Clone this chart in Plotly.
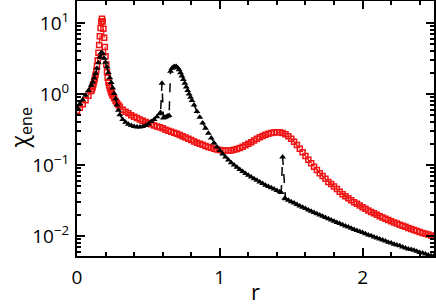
import plotly.graph_objects as go

# ---- data ----
r_red = [0.00, 0.02, 0.04, 0.06, 0.08, 0.10, 0.105, 0.11, 0.115, 0.12, 0.125, 0.13, 0.135, 0.14,
         0.145, 0.15, 0.155, 0.16, 0.165, 0.17, 0.175, 0.18, 0.185, 0.19, 0.195, 0.20, 0.205,
         0.21, 0.215, 0.22, 0.225, 0.23, 0.235, 0.24, 0.245, 0.25, 0.26, 0.27, 0.28, 0.29, 0.30,
         0.32, 0.34, 0.36, 0.38, 0.40, 0.42, 0.44, 0.46, 0.48, 0.50, 0.52, 0.54, 0.56, 0.58,
         0.60, 0.62, 0.64, 0.66, 0.68, 0.70, 0.72, 0.74, 0.76, 0.78, 0.80, 0.82, 0.84, 0.86,
         0.88, 0.90, 0.92, 0.94, 0.96, 0.98, 1.00, 1.02, 1.04, 1.06, 1.08, 1.10, 1.12, 1.14,
         1.16, 1.18, 1.20, 1.22, 1.24, 1.26, 1.28, 1.30, 1.32, 1.34, 1.36, 1.38, 1.40, 1.42,
         1.44, 1.46, 1.48, 1.50, 1.52, 1.54, 1.56, 1.58, 1.60, 1.62, 1.64, 1.66, 1.68, 1.70,
         1.72, 1.74, 1.76, 1.78, 1.80, 1.82, 1.84, 1.86, 1.88, 1.90, 1.92, 1.94, 1.96, 1.98,
         2.00, 2.02, 2.04, 2.06, 2.08, 2.10, 2.12, 2.14, 2.16, 2.18, 2.20, 2.22, 2.24, 2.26,
         2.28, 2.30, 2.32, 2.34, 2.36, 2.38, 2.40, 2.42, 2.44, 2.46, 2.48, 2.50]
chi_red = [0.58, 0.64, 0.72, 0.82, 0.95, 1.1, 1.17, 1.26, 1.37, 1.5, 1.66, 1.87, 2.15, 2.5,
           3.0, 3.8, 4.9, 6.5, 8.5, 10.5, 11.5, 10.5, 8.3, 6.2, 4.6, 3.4, 2.6,
           2.05, 1.7, 1.48, 1.33, 1.22, 1.13, 1.06, 1.0, 0.95, 0.87, 0.8, 0.75, 0.7, 0.66,
           0.6, 0.565, 0.535, 0.505, 0.48, 0.46, 0.44, 0.42, 0.405, 0.39, 0.375, 0.36, 0.35, 0.34,
           0.33, 0.315, 0.305, 0.295, 0.285, 0.275, 0.265, 0.255, 0.245, 0.235, 0.225, 0.215, 0.207, 0.2,
           0.193, 0.186, 0.18, 0.175, 0.17, 0.166, 0.163, 0.161, 0.16, 0.16, 0.161, 0.164, 0.168, 0.174,
           0.181, 0.19, 0.2, 0.21, 0.222, 0.234, 0.246, 0.257, 0.267, 0.276, 0.283, 0.288, 0.29, 0.289,
           0.283, 0.272, 0.255, 0.235, 0.213, 0.191, 0.17, 0.151, 0.134, 0.119, 0.106, 0.095, 0.085, 0.077,
           0.07, 0.064, 0.058, 0.054, 0.05, 0.046, 0.042, 0.039, 0.0365, 0.034, 0.032, 0.030, 0.0285, 0.027,
           0.0255, 0.0242, 0.023, 0.0219, 0.0209, 0.02, 0.0191, 0.0183, 0.0176, 0.0169, 0.0162, 0.0156, 0.015, 0.0145,
           0.014, 0.0135, 0.013, 0.0126, 0.0122, 0.0118, 0.0114, 0.0111, 0.0108, 0.0105, 0.0102, 0.0099]

r_black = [0.00, 0.02, 0.04, 0.06, 0.08, 0.10, 0.11, 0.12, 0.13, 0.14, 0.15, 0.16, 0.17, 0.175,
           0.18, 0.19, 0.20, 0.21, 0.22, 0.23, 0.24, 0.25, 0.26, 0.27, 0.28, 0.29, 0.30,
           0.32, 0.34, 0.36, 0.38, 0.40, 0.42, 0.44, 0.46, 0.48, 0.50, 0.52, 0.54, 0.56, 0.58,
           0.585, 0.595, 0.605, 0.615, 0.625, 0.635, 0.645, 0.655, 0.665, 0.675, 0.685, 0.695,
           0.705, 0.715, 0.725, 0.735, 0.745, 0.755, 0.765, 0.775, 0.785, 0.795, 0.805,
           0.82, 0.84, 0.86, 0.88, 0.90, 0.92, 0.94, 0.96, 0.98, 1.00, 1.02, 1.04, 1.06, 1.08,
           1.10, 1.12, 1.14, 1.16, 1.18, 1.20, 1.22, 1.24, 1.26, 1.28, 1.30, 1.32, 1.34, 1.36,
           1.38, 1.40, 1.42, 1.43, 1.44, 1.455, 1.46, 1.48, 1.50, 1.52, 1.54, 1.56, 1.58, 1.60,
           1.62, 1.64, 1.66, 1.68, 1.70, 1.72, 1.74, 1.76, 1.78, 1.80, 1.82, 1.84, 1.86, 1.88,
           1.90, 1.92, 1.94, 1.96, 1.98, 2.00, 2.02, 2.04, 2.06, 2.08, 2.10, 2.12, 2.14, 2.16,
           2.18, 2.20, 2.22, 2.24, 2.26, 2.28, 2.30, 2.32, 2.34, 2.36, 2.38, 2.40, 2.42, 2.44,
           2.46, 2.48, 2.50]
chi_black = [0.65, 0.73, 0.83, 0.96, 1.12, 1.33, 1.48, 1.68, 1.95, 2.3, 2.75, 3.3, 3.8, 3.85,
             3.7, 3.2, 2.8, 2.4, 2.0, 1.7, 1.45, 1.22, 1.02, 0.86, 0.7, 0.59, 0.51,
             0.44, 0.4, 0.375, 0.36, 0.35, 0.345, 0.345, 0.35, 0.36, 0.38, 0.41, 0.44, 0.48, 0.53,
             0.55, 1.42, 0.46, 0.47, 0.48, 0.49, 0.5, 2.1, 2.3, 2.4, 2.45, 2.45,
             2.35, 2.2, 2.0, 1.8, 1.6, 1.42, 1.26, 1.12, 1.0, 0.9, 0.81,
             0.7, 0.57, 0.47, 0.39, 0.33, 0.28, 0.24, 0.205, 0.18, 0.16, 0.143, 0.13, 0.118, 0.108,
             0.1, 0.093, 0.087, 0.081, 0.076, 0.072, 0.068, 0.064, 0.061, 0.058, 0.055, 0.052, 0.05, 0.048,
             0.046, 0.044, 0.042, 0.041, 0.13, 0.034, 0.0335, 0.032, 0.0305, 0.0292, 0.0279, 0.0266, 0.0255, 0.0244,
             0.0234, 0.0224, 0.0215, 0.0207, 0.0198, 0.0191, 0.0183, 0.0176, 0.0169, 0.0162, 0.0156, 0.015, 0.0145, 0.0139,
             0.0134, 0.0129, 0.0124, 0.012, 0.0116, 0.0112, 0.0108, 0.0104, 0.0101, 0.0097, 0.0094, 0.0091, 0.0088, 0.0085,
             0.0082, 0.008, 0.0077, 0.0075, 0.0073, 0.007, 0.0068, 0.0066, 0.0065, 0.0063, 0.0061, 0.0059, 0.0058, 0.0056,
             0.0054, 0.0053, 0.0053]

x_ticks = [0, 1, 2]
x_ticklabels = ["0", "1", "2"]
x_minor = [0.2, 0.4, 0.6, 0.8, 1.2, 1.4, 1.6, 1.8, 2.2, 2.4]
y_ticks = [0.01, 0.1, 1, 10]
y_ticklabels = ["10<sup>−2</sup>", "10<sup>−1</sup>", "10<sup>0</sup>", "10<sup>1</sup>"]
y_minor = [m * d for d in [0.001, 0.01, 0.1, 1, 10] for m in range(2, 10)]
x_title = "r"
y_title = "χ<sub>ene</sub>"

FONT = "Open Sans"
RED = "#f01414"

fig = go.Figure()
fig.add_trace(go.Scatter(
    x=r_red, y=chi_red, mode="lines+markers",
    line=dict(color=RED, width=1.2, dash="dash"),
    marker=dict(symbol="square-open", size=5, color=RED, line=dict(width=1.5, color=RED)),
    showlegend=False, cliponaxis=True))
fig.add_trace(go.Scatter(
    x=r_black, y=chi_black, mode="lines+markers",
    line=dict(color="black", width=1.5, dash="dash"),
    marker=dict(symbol="triangle-up", size=6, color="black"),
    showlegend=False, cliponaxis=True))

axis_common = dict(showline=True, linecolor="black", linewidth=2, mirror="ticks",
                   ticks="inside", tickcolor="black", tickwidth=1.5, ticklen=8,
                   showgrid=False, zeroline=False, automargin=False,
                   tickfont=dict(family=FONT, size=19, color="black"))

fig.update_xaxes(range=[0, 2.5], tickmode="array", tickvals=x_ticks, ticktext=x_ticklabels,
                 minor=dict(tickmode="array", tickvals=x_minor, ticks="inside", ticklen=4,
                            tickwidth=1.5, tickcolor="black", showgrid=False),
                 ticklabelstandoff=3,
                 **axis_common)
fig.update_yaxes(type="log", range=[-2.28, 1.31], tickmode="array", tickvals=y_ticks,
                 ticktext=y_ticklabels,
                 minor=dict(tickmode="array", tickvals=y_minor, ticks="inside", ticklen=4,
                            tickwidth=1.5, tickcolor="black", showgrid=False),
                 ticklabelstandoff=2,
                 **axis_common)

fig.add_annotation(text=x_title, xref="paper", yref="paper", x=0.5, y=0, yshift=-35,
                   yanchor="middle", showarrow=False,
                   font=dict(family=FONT, size=22, color="black"))
fig.add_annotation(text=y_title, xref="paper", yref="paper", x=0, y=0.5, xshift=-57,
                   xanchor="center", yanchor="middle", textangle=-90, showarrow=False,
                   font=dict(family=FONT, size=23, color="black"))

fig.update_layout(width=436, height=308, margin=dict(l=77, r=2, t=1, b=52),
                  plot_bgcolor="white", paper_bgcolor="white",
                  font=dict(family=FONT, color="black"))
fig.write_html("out.html", config={"displayModeBar": False},
               post_script="document.body.style.margin='0';document.body.style.overflow='hidden';")
